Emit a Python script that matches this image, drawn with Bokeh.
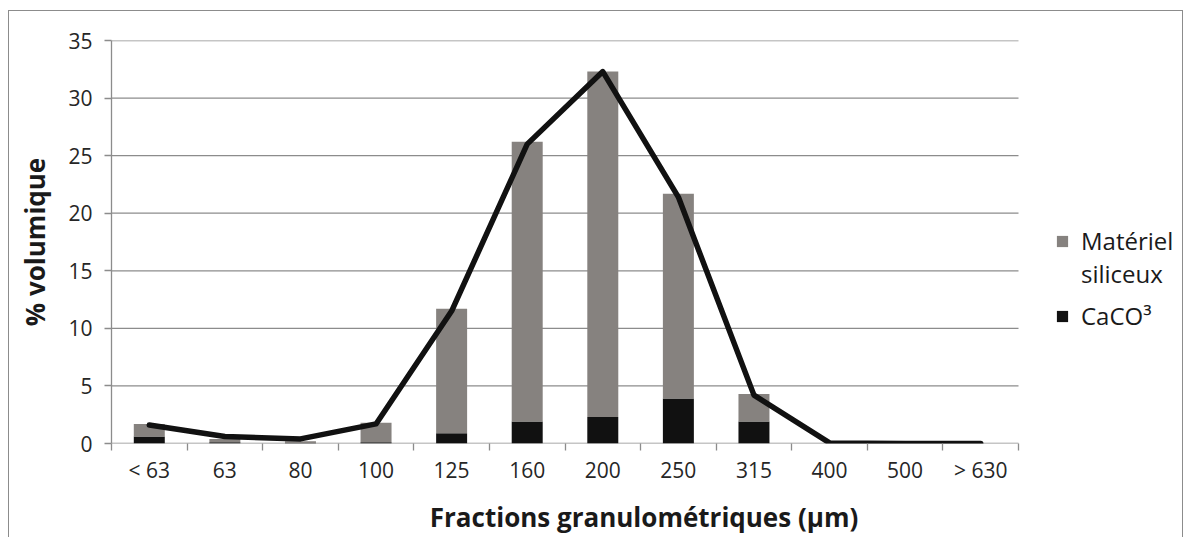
from bokeh.plotting import figure
from bokeh.models import FixedTicker, Legend, LegendItem, Range1d
from bokeh.embed import file_html
from bokeh.resources import INLINE

categories = ["< 63", "63", "80", "100", "125", "160", "200", "250", "315", "400", "500", "> 630"]
caco3 = [0.6, 0.1, 0.05, 0.1, 0.9, 1.9, 2.3, 3.9, 1.9, 0, 0, 0]
total = [1.7, 0.4, 0.2, 1.8, 11.7, 26.2, 32.3, 21.7, 4.3, 0, 0, 0]
line_vals = [1.6, 0.6, 0.4, 1.7, 11.5, 26.0, 32.3, 21.4, 4.2, 0.05, 0, 0]
y_ticks = [0, 5, 10, 15, 20, 25, 30, 35]

FONT = "Open Sans"
GRAY = "#86827f"
BLACK = "#111111"
AXIS_GRAY = "#8c8c8c"

n = len(categories)
xc = [i + 0.5 for i in range(n)]
FRAME_W = 1065
x_end = n * FRAME_W / 907.0   # extra room on the right for the legend

p = figure(frame_width=FRAME_W, frame_height=403, output_backend="svg", toolbar_location=None,
           x_range=Range1d(0, x_end), y_range=Range1d(0, 35),
           min_border_left=102, min_border_right=6, min_border_top=29)
p.styles = {"border-top": "1px solid #8c8c8c", "border-left": "1px solid #8c8c8c",
            "border-right": "1px solid #8c8c8c", "margin-left": "8px", "margin-top": "10px"}
p.outline_line_color = None
p.background_fill_color = "white"

# grid lines limited to the category span
p.xgrid.grid_line_color = None
p.ygrid.grid_line_color = None
p.segment(x0=[0] * len(y_ticks), x1=[n] * len(y_ticks), y0=y_ticks, y1=y_ticks,
          line_color=AXIS_GRAY, line_width=1.3)

r_black = p.vbar(x=xc, top=caco3, bottom=0, width=0.41, fill_color=BLACK, line_color=None)
r_gray = p.vbar(x=xc, top=total, bottom=caco3, width=0.41, fill_color=GRAY, line_color=None)
r_blank = p.vbar(x=[], top=[], width=0.41, fill_alpha=0, line_alpha=0)
p.line(x=xc, y=line_vals, line_color=BLACK, line_width=5.5, line_join="round", line_cap="round")

# x axis
p.xaxis.ticker = FixedTicker(ticks=xc, minor_ticks=list(range(n + 1)))
p.xaxis.major_label_overrides = {x: c for x, c in zip(xc, categories)}
p.xaxis.major_tick_out = 0
p.xaxis.major_tick_in = 0
p.xaxis.minor_tick_out = 7
p.xaxis.minor_tick_in = 0
p.xaxis.minor_tick_line_color = AXIS_GRAY
p.xaxis.axis_line_color = None
p.xaxis.axis_label = "Fractions granulométriques (µm)"
p.xaxis.major_label_standoff = 5
p.xaxis.axis_label_standoff = 12

# y axis
p.yaxis.ticker = FixedTicker(ticks=y_ticks)
p.yaxis.major_tick_out = 7
p.yaxis.major_tick_in = 0
p.yaxis.minor_tick_line_color = None
p.yaxis.major_tick_line_color = AXIS_GRAY
p.yaxis.axis_line_color = AXIS_GRAY
p.yaxis.axis_label = "% volumique"
p.yaxis.major_label_standoff = 12
p.yaxis.axis_label_standoff = 12

for ax in (p.xaxis, p.yaxis):
    ax.major_label_text_font = FONT
    ax.major_label_text_font_size = "21px"
    ax.major_label_text_color = "#262626"
    ax.axis_label_text_font = FONT
    ax.axis_label_text_font_size = "26px"
    ax.axis_label_text_font_style = "bold"
    ax.axis_label_text_color = "#1a1a1a"
    ax.axis_line_width = 1.3
    ax.major_tick_line_width = 1.3
    ax.minor_tick_line_width = 1.3

common = dict(border_line_color=None, background_fill_alpha=0, label_text_font=FONT,
              label_text_font_size="24px", label_text_color="#1a1a1a",
              glyph_width=14, glyph_height=14, spacing=0, padding=0, margin=0, label_standoff=12)
legend1 = Legend(items=[LegendItem(label="Matériel", renderers=[r_gray]),
                        LegendItem(label="siliceux", renderers=[r_blank])],
                 location=(944, 153), **common)
legend2 = Legend(items=[LegendItem(label="CaCO³", renderers=[r_black])],
                 location=(944, 111), **common)
p.add_layout(legend1, "center")
p.add_layout(legend2, "center")

open("out.html", "w").write(file_html(p, INLINE))
